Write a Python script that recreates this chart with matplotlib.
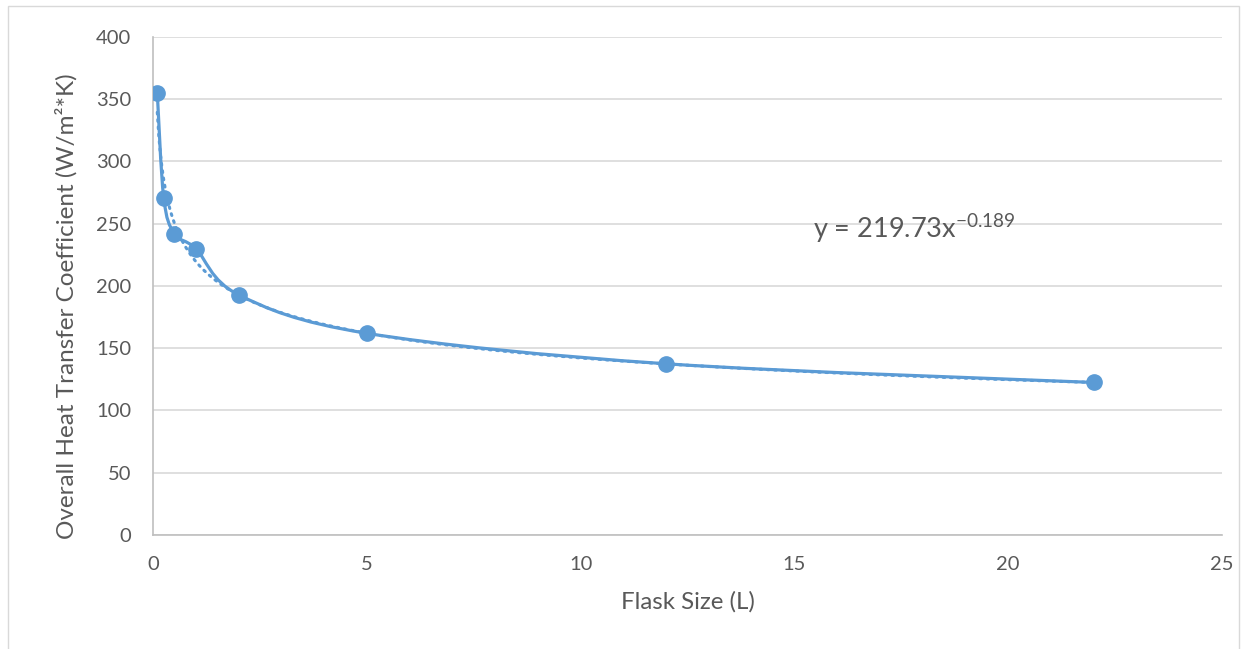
import numpy as np
import matplotlib
matplotlib.use("Agg")
import matplotlib.pyplot as plt
from matplotlib.path import Path
from matplotlib.patches import PathPatch, Rectangle

plt.rcParams['font.family'] = ['Lato', 'DejaVu Sans']
plt.rcParams['mathtext.fontset'] = 'custom'
plt.rcParams['mathtext.rm'] = 'Lato'
plt.rcParams['mathtext.it'] = 'Lato'
plt.rcParams['mathtext.default'] = 'regular'

flask_size = [0.1, 0.25, 0.5, 1, 2, 5, 12, 22]
heat_coeff = [355, 271, 242, 230, 193, 162, 137.5, 122.5]
trend_a = 219.73
trend_b = -0.189
x_ticks = [0, 5, 10, 15, 20, 25]
y_ticks = [0, 50, 100, 150, 200, 250, 300, 350, 400]

color = '#5B9BD5'
text_color = '#595959'
grid_color = '#D9D9D9'

fig = plt.figure(figsize=(12.47, 6.49), dpi=100)
ax = fig.add_axes([0.1227, 0.1757, 0.8573, 0.7673])

# outer chart border
fig.patches.append(Rectangle((8/1247, -0.01), 1231/1247, 1 - 6/649 + 0.01,
                             transform=fig.transFigure, fill=False,
                             edgecolor='#D9D9D9', lw=1.0))

# smooth line through the points (Catmull-Rom as cubic Bezier)
pts = np.column_stack([flask_size, heat_coeff]).astype(float)
verts = [tuple(pts[0])]
codes = [Path.MOVETO]
n = len(pts)
for i in range(n - 1):
    p0 = pts[i - 1] if i > 0 else pts[i]
    p1 = pts[i]
    p2 = pts[i + 1]
    p3 = pts[i + 2] if i + 2 < n else pts[i + 1]
    c1 = p1 + (p2 - p0) / 6.0
    c2 = p2 - (p3 - p1) / 6.0
    verts += [tuple(c1), tuple(c2), tuple(p2)]
    codes += [Path.CURVE4] * 3
ax.add_patch(PathPatch(Path(verts, codes), facecolor='none', edgecolor=color,
                       lw=2.3, zorder=3, capstyle='round'))

# power trendline
xt = np.linspace(min(flask_size), max(flask_size), 600)
ax.plot(xt, trend_a * xt ** trend_b, color=color, lw=2.2, ls=(0, (0.6, 1.8)),
        dash_capstyle='round', zorder=2)

ax.plot(flask_size, heat_coeff, 'o', color=color, markersize=11, zorder=4)

ax.text(15.43, 238.5, r'y = 219.73x$^{-0.189}$', fontsize=19.5, color=text_color,
        ha='left', va='baseline')

ax.set_xlim(0, 25)
ax.set_ylim(0, 400)
ax.set_xticks(x_ticks)
ax.set_yticks(y_ticks)
ax.tick_params(axis='both', length=0, labelsize=14.5, labelcolor=text_color)
ax.tick_params(axis='y', pad=15.5)
ax.tick_params(axis='x', pad=15)
ax.yaxis.grid(True, color=grid_color, lw=1.2)
ax.set_axisbelow(True)
for s in ['top', 'right']:
    ax.spines[s].set_visible(False)
for s in ['left', 'bottom']:
    ax.spines[s].set_color('#BFBFBF')
    ax.spines[s].set_linewidth(1.2)

ax.set_xlabel('Flask Size (L)', fontsize=17.3, color=text_color, labelpad=13)
ax.set_ylabel('Overall Heat Transfer Coefficient (W/m²*K)', fontsize=17.5,
              color=text_color)
ax.yaxis.set_label_coords(-0.0701, 0.46)

fig.savefig('out.png', dpi=100)
